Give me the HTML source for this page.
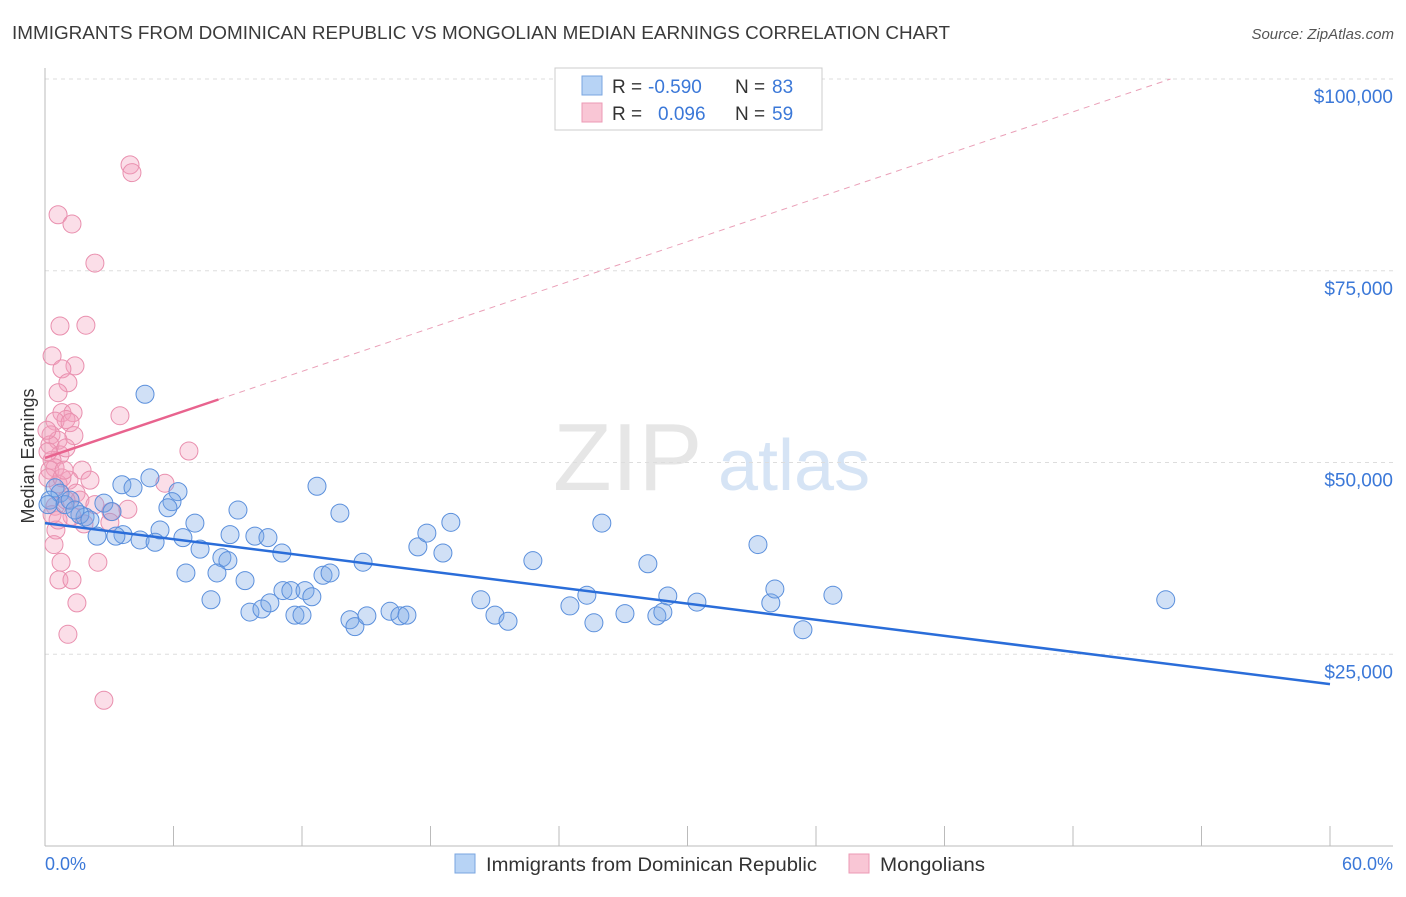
<!DOCTYPE html>
<html><head><meta charset="utf-8"><style>
body{margin:0;background:#fff;font-family:"Liberation Sans",sans-serif}
svg text{font-family:"Liberation Sans",sans-serif}
</style></head><body>
<svg id="chart" width="1406" height="892" xmlns="http://www.w3.org/2000/svg">
<text x="12" y="39" font-size="18" fill="#3a3a3a" textLength="938" lengthAdjust="spacingAndGlyphs">IMMIGRANTS FROM DOMINICAN REPUBLIC VS MONGOLIAN MEDIAN EARNINGS CORRELATION CHART</text>
<text x="1394" y="39" font-size="15" fill="#555" text-anchor="end" font-style="italic">Source: ZipAtlas.com</text>
<g>
<text x="553" y="490" font-size="96" fill="#e6e6e6" font-family="Liberation Serif,serif">ZIP</text>
<text x="718" y="490" font-size="72" fill="#d6e4f5">atlas</text></g>
<g id="grid"></g>
<g id="axes"></g>
<g id="marks"></g>
<text transform="translate(34,456) rotate(-90)" font-size="18" fill="#333" text-anchor="middle">Median Earnings</text>
<text x="45" y="870" font-size="18" fill="#3b78d8">0.0%</text>
<text x="1393" y="870" font-size="18" fill="#3b78d8" text-anchor="end">60.0%</text>
<g>
<rect x="555" y="68" width="267" height="62" fill="#fff" stroke="#ccc"/>
<rect x="582" y="76" width="20" height="19" fill="#b7d3f5" stroke="#7aa6e0"/>
<rect x="582" y="103" width="20" height="19" fill="#f9c6d5" stroke="#ec9ab5"/>
<text x="612" y="93" font-size="19" fill="#333">R =</text>
<text x="648" y="93" font-size="19" fill="#3b78d8">-0.590</text>
<text x="735" y="93" font-size="19" fill="#333">N =</text>
<text x="772" y="93" font-size="19" fill="#3b78d8">83</text>
<text x="612" y="120" font-size="19" fill="#333">R =</text>
<text x="658" y="120" font-size="19" fill="#3b78d8">0.096</text>
<text x="735" y="120" font-size="19" fill="#333">N =</text>
<text x="772" y="120" font-size="19" fill="#3b78d8">59</text>
</g>
<g>
<rect x="455" y="854" width="20" height="19" fill="#b7d3f5" stroke="#7aa6e0"/>
<text x="486" y="871" font-size="19" fill="#333" textLength="331" lengthAdjust="spacingAndGlyphs">Immigrants from Dominican Republic</text>
<rect x="849" y="854" width="20" height="19" fill="#f9c6d5" stroke="#ec9ab5"/>
<text x="880" y="871" font-size="19" fill="#333" textLength="105" lengthAdjust="spacingAndGlyphs">Mongolians</text>
</g>
</svg>
<script>
const yTicks=[25000,50000,75000,100000];
const yTickLabels=["$25,000","$50,000","$75,000","$100,000"];
const blueX=[4.67,4.90,3.59,4.11,6.21,5.93,2.75,5.74,9.01,3.13,1.87,7.00,5.37,2.43,3.64,3.31,4.44,5.14,6.44,8.64,9.80,10.41,7.24,11.06,8.26,8.54,6.58,8.03,9.34,7.75,9.57,10.13,10.50,11.11,11.48,12.14,12.46,11.67,12.00,12.98,13.31,12.70,13.77,14.85,14.24,14.47,15.03,16.11,16.57,16.90,17.41,17.83,18.58,18.95,20.35,21.01,21.62,22.78,24.51,25.30,25.63,26.00,27.08,28.15,28.57,28.85,29.08,30.44,33.29,33.89,34.08,35.39,36.79,52.33,0.47,0.70,0.93,1.17,1.63,0.23,1.40,2.10,0.14];
const blueY=[58.9,48.0,47.1,46.7,46.2,44.9,44.7,44.1,43.8,43.6,42.9,42.1,41.2,40.4,40.6,40.4,39.9,39.6,40.2,40.6,40.4,40.2,38.7,38.2,37.6,37.2,35.6,35.6,34.6,32.1,30.5,30.9,31.7,33.3,33.3,33.3,32.5,30.1,30.1,35.3,35.6,46.9,43.4,37.0,29.5,28.6,30.0,30.6,30.0,30.1,39.0,40.8,38.2,42.2,32.1,30.1,29.3,37.2,31.3,32.7,29.1,42.1,30.3,36.8,30.0,30.5,32.6,31.8,39.3,31.7,33.5,28.2,32.7,32.1,46.7,46.0,44.5,45.1,43.2,45.1,43.8,42.5,44.5];
const pinkX=[3.97,4.06,0.61,1.26,2.33,0.70,1.91,0.33,1.40,0.79,1.07,0.61,3.50,0.79,1.31,0.98,0.47,1.17,0.28,1.35,0.61,0.23,0.70,0.33,0.47,1.73,6.72,5.60,1.12,0.61,1.45,0.47,1.26,3.08,3.87,1.82,3.03,0.51,0.42,0.75,2.47,0.65,1.26,1.49,1.07,2.75,0.23,0.14,0.79,1.63,0.98,2.33,0.33,0.09,0.98,2.10,0.61,0.89,0.14];
const pinkY=[88.8,87.8,82.3,81.1,76.0,67.8,67.9,63.9,62.6,62.2,60.4,59.1,56.1,56.5,56.5,55.6,55.4,55.2,53.6,53.5,52.9,52.3,51.0,50.3,49.3,49.0,51.5,47.3,47.7,47.2,46.0,44.3,43.0,43.6,43.9,42.0,42.2,41.2,39.3,37.0,37.0,34.7,34.7,31.7,27.6,19.0,49.0,48.0,48.0,45.1,45.1,44.5,43.2,54.2,51.9,47.7,42.5,49.0,51.4];
const blueTrend=[42.1,-0.35];
const pinkTrend=[50.6,0.94];
const NS="http://www.w3.org/2000/svg";
const xs=p=>45+p*(1285/60);
const ys=k=>846-k*1000*(767/100000);
function mk(tag,attrs,parent){const e=document.createElementNS(NS,tag);for(const k in attrs)e.setAttribute(k,attrs[k]);parent.appendChild(e);return e;}
const grid=document.getElementById('grid'),axes=document.getElementById('axes'),marks=document.getElementById('marks');
yTicks.forEach((t,i)=>{const y=ys(t/1000);
const g=mk('line',{x1:45,x2:1393,y1:y,y2:y,stroke:'#ddd','stroke-dasharray':'4,4'},grid);


const tx=mk('text',{x:1393,y:y+24,'font-size':19,fill:'#3b78d8','text-anchor':'end'},grid);
tx.textContent=yTickLabels[i];

});
const ax=mk('line',{x1:45,x2:1393,y1:846,y2:846,stroke:'#bbb'},axes);


const ay=mk('line',{x1:45,x2:45,y1:68,y2:846,stroke:'#bbb'},axes);


for(let i=0;i<=10;i++){const x=xs(i*6);const t=mk('line',{x1:x,x2:x,y1:826,y2:846,stroke:'#bbb'},axes);

}
pinkX.forEach((p,i)=>{const c=mk('circle',{cx:xs(p),cy:ys(pinkY[i]),r:9,fill:'rgba(244,160,188,0.35)',stroke:'#e98fae','stroke-width':1},marks);

});
blueX.forEach((p,i)=>{const c=mk('circle',{cx:xs(p),cy:ys(blueY[i]),r:9,fill:'rgba(120,165,230,0.35)',stroke:'#5a8fdc','stroke-width':1},marks);

});
const bl=mk('line',{x1:xs(0),y1:ys(blueTrend[0]),x2:xs(60),y2:ys(blueTrend[0]+blueTrend[1]*60),stroke:'#2a6dd9','stroke-width':2.5},marks);


const px1=8.1,px2=(100-pinkTrend[0])/pinkTrend[1];
const pl=mk('line',{x1:xs(0),y1:ys(pinkTrend[0]),x2:xs(px1),y2:ys(pinkTrend[0]+pinkTrend[1]*px1),stroke:'#e8638e','stroke-width':2.5},marks);


const pd=mk('line',{x1:xs(px1),y1:ys(pinkTrend[0]+pinkTrend[1]*px1),x2:xs(px2),y2:ys(100),stroke:'#eaa0b8','stroke-width':1,'stroke-dasharray':'6,5'},marks);


</script>
</body></html>
